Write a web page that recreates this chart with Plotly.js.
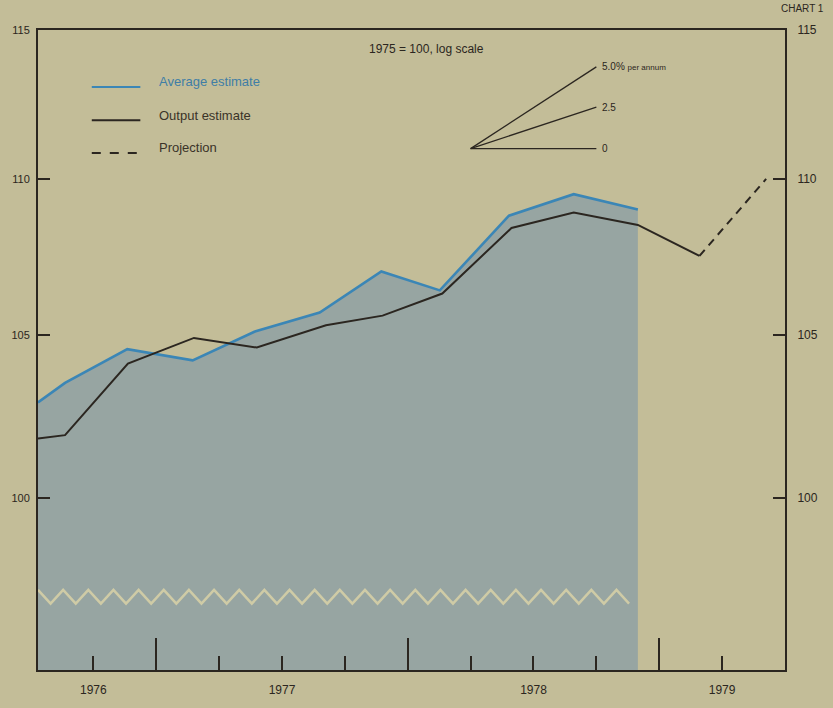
<!DOCTYPE html>
<html>
<head>
<meta charset="utf-8">
<script src="https://cdn.plot.ly/plotly-3.0.1.min.js"></script>
<style>
  html, body { margin: 0; padding: 0; background: #c3bd98; }
  #chart { width: 833px; height: 708px; }
</style>
</head>
<body>
<div id="chart"></div>
<script>
// ---- Data (x in quarters from the chart's left edge, y: index 1975 = 100) ----
const avgQuarters   = [0.12, 0.55, 1.54, 2.58, 3.57, 4.6, 5.58, 6.51, 7.61, 8.64, 9.66];
const avgEstimate   = [102.9, 103.5, 104.55, 104.2, 105.1, 105.7, 107.0, 106.4, 108.8, 109.5, 109.0];

const outQuarters   = [0.12, 0.55, 1.55, 2.6, 3.6, 4.7, 5.6, 6.55, 7.65, 8.64, 9.66, 10.64];
const outputEstimate= [101.8, 101.9, 104.1, 104.9, 104.6, 105.3, 105.6, 106.3, 108.4, 108.9, 108.5, 107.5];

const projQuarters  = [10.64, 11.7];
const projection    = [107.5, 110.0];

// growth-rate reference fan
const fanRates      = [5.0, 2.5, 0];
const fanLabels     = ["5.0% <span style='font-size:8px'>per annum</span>", "2.5", "0"];
const fanOrigin     = {q: 7.0, v: 111.0};
const fanSpanQuarters = 2;

// axis ticks
const shortTickVals = [1, 3, 4, 5, 7, 8, 9, 11];
const shortTickText = ["1976", "", "1977", "", "", "1978", "", "1979"];
const longTickVals  = [2, 6, 10];
const yTickVals     = [100, 105, 110, 115];
const yTickText     = ["100", "105", "110", "115"];

const xRange = [0.12, 12.0];
const yRange = [Math.log10(95), Math.log10(115)];

// ---- colours ----
const paper = '#c3bd98';
const fillCol = '#97a5a2';
const blue = '#3b86b6';
const ink = '#2b2620';

const traces = [];
// baseline for shaded area
traces.push({x: [avgQuarters[0], avgQuarters[avgQuarters.length - 1]], y: [90, 90],
  mode: 'lines', line: {width: 0, color: 'rgba(0,0,0,0)'}, hoverinfo: 'skip', showlegend: false});
traces.push({x: avgQuarters, y: avgEstimate, mode: 'lines', fill: 'tonexty', fillcolor: fillCol,
  line: {color: blue, width: 2.6}, showlegend: false});

// axis-break zigzag
(function () {
  const zx = [], zy = [];
  let q = 0.12, up = true;
  while (q <= 9.62) { zx.push(q); zy.push(up ? 97.3 : 96.9); up = !up; q += 0.2; }
  traces.push({x: zx, y: zy, mode: 'lines', line: {color: '#cfcba6', width: 2.5}, hoverinfo: 'skip', showlegend: false});
})();

traces.push({x: outQuarters, y: outputEstimate, mode: 'lines', line: {color: ink, width: 2}, showlegend: false});
traces.push({x: projQuarters, y: projection, mode: 'lines', line: {color: ink, width: 2, dash: '8px,6px'}, showlegend: false});

// fan lines
const annotations = [];
fanRates.forEach((r, i) => {
  const endQ = fanOrigin.q + fanSpanQuarters;
  const endV = fanOrigin.v * Math.pow(1 + r / 100, fanSpanQuarters / 4);
  traces.push({x: [fanOrigin.q, endQ], y: [fanOrigin.v, endV], mode: 'lines',
    line: {color: ink, width: 1.3}, showlegend: false, hoverinfo: 'skip'});
  annotations.push({x: endQ + 0.06, y: Math.log10(endV), xref: 'x', yref: 'y', text: fanLabels[i],
    showarrow: false, xanchor: 'left', yanchor: 'middle', font: {size: 10, color: ink, family: 'Liberation Sans, Arial, sans-serif'}});
});

// dummy traces so the overlay axes render
traces.push({x: [1], y: [100], xaxis: 'x2', yaxis: 'y', mode: 'markers', marker: {opacity: 0}, showlegend: false, hoverinfo: 'skip'});
traces.push({x: [1], y: [100], xaxis: 'x', yaxis: 'y2', mode: 'markers', marker: {opacity: 0}, showlegend: false, hoverinfo: 'skip'});

// legend (manual)
const font = 'Liberation Sans, Arial, sans-serif';
const legendItems = [
  {text: 'Average estimate', color: blue, textColor: '#3f7ea6', dash: 'solid', y: 0.915},
  {text: 'Output estimate', color: ink, textColor: '#3a3328', dash: 'solid', y: 0.863},
  {text: 'Projection', color: ink, textColor: '#3a3328', dash: 'dash', y: 0.812}
];
const shapes = [];
legendItems.forEach(it => {
  shapes.push({type: 'line', xref: 'paper', yref: 'paper', x0: 0.072, x1: 0.137, y0: it.y - 0.004, y1: it.y - 0.004,
    line: {color: it.color, width: 2, dash: it.dash}});
  annotations.push({xref: 'paper', yref: 'paper', x: 0.159, y: it.y + 0.004, text: it.text, showarrow: false,
    xanchor: 'left', yanchor: 'middle', font: {size: 13, color: it.textColor, family: font}});
});

annotations.push({xref: 'paper', yref: 'paper', x: 0.52, y: 0.985, text: '1975 = 100, log scale', showarrow: false,
  xanchor: 'center', yanchor: 'top', font: {size: 12, color: ink, family: font}});
annotations.push({xref: 'paper', yref: 'paper', x: 1.055, y: 1.0, yshift: 22, text: 'CHART 1', showarrow: false,
  xanchor: 'right', yanchor: 'middle', font: {size: 10, color: ink, family: font}});

const axisCommon = {showgrid: false, zeroline: false, fixedrange: true};

const layout = {
  width: 833, height: 708,
  paper_bgcolor: paper, plot_bgcolor: paper,
  margin: {l: 38, r: 48, t: 30, b: 38},
  showlegend: false,
  xaxis: Object.assign({}, axisCommon, {
    range: xRange, tickmode: 'array', tickvals: shortTickVals, ticktext: shortTickText,
    ticks: 'inside', ticklen: 14, tickwidth: 2, tickcolor: ink,
    showline: true, linecolor: ink, linewidth: 2, mirror: true,
    ticklabelstandoff: 8,
    tickfont: {size: 12, color: ink, family: font}
  }),
  xaxis2: Object.assign({}, axisCommon, {
    range: xRange, overlaying: 'x', anchor: 'y', side: 'bottom',
    tickmode: 'array', tickvals: longTickVals, showticklabels: false,
    ticks: 'inside', ticklen: 32, tickwidth: 2, tickcolor: ink, showline: false
  }),
  yaxis: Object.assign({}, axisCommon, {
    type: 'log', range: yRange, tickmode: 'array', tickvals: yTickVals, ticktext: yTickText,
    ticks: 'inside', ticklen: 12, tickwidth: 2, tickcolor: ink,
    showline: true, linecolor: ink, linewidth: 2,
    ticklabelstandoff: 4,
    tickfont: {size: 11, color: ink, family: font}
  }),
  yaxis2: Object.assign({}, axisCommon, {
    type: 'log', range: yRange, overlaying: 'y', side: 'right', anchor: 'x',
    tickmode: 'array', tickvals: yTickVals, ticktext: yTickText,
    ticks: 'inside', ticklen: 12, tickwidth: 2, tickcolor: ink,
    showline: true, linecolor: ink, linewidth: 2,
    ticklabelstandoff: 8,
    tickfont: {size: 12, color: ink, family: font}
  }),
  shapes: shapes,
  annotations: annotations
};

Plotly.newPlot('chart', traces, layout, {staticPlot: true, displayModeBar: false});
</script>
</body>
</html>
